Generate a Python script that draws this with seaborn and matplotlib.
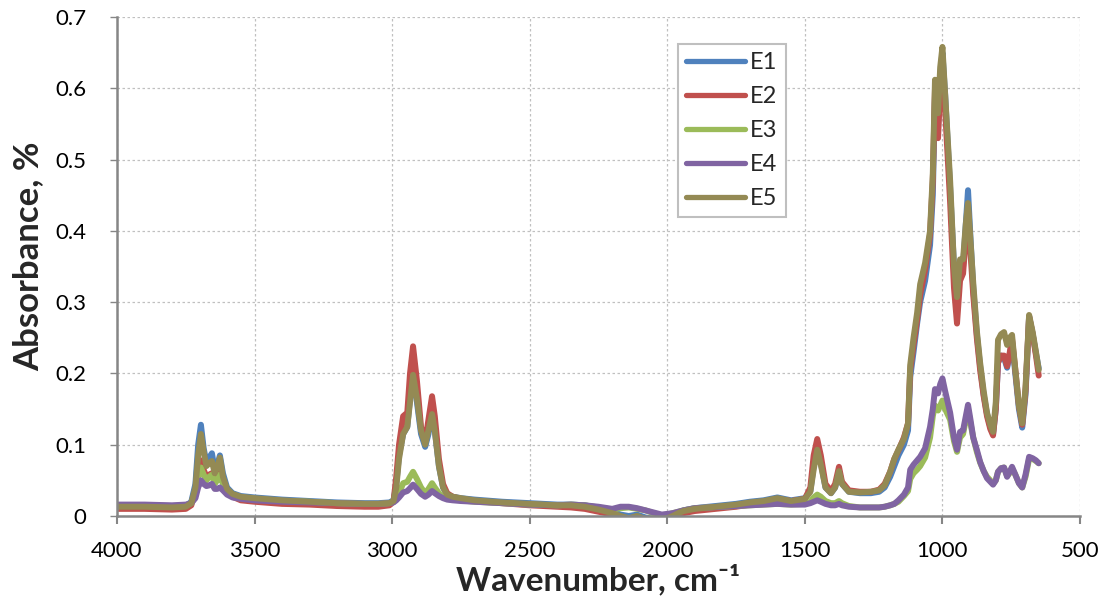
import matplotlib
matplotlib.use("Agg")
import matplotlib.pyplot as plt
import seaborn as sns
import pandas as pd
from matplotlib.lines import Line2D

wavenumber = [4000, 3900, 3800, 3750, 3730, 3715, 3705, 3695, 3685, 3675,
              3665, 3655, 3645, 3636, 3626, 3615, 3600, 3580, 3550, 3500,
              3400, 3300, 3200, 3100, 3050, 3010, 2995, 2985, 2975, 2960,
              2945, 2935, 2924, 2910, 2895, 2880, 2868, 2855, 2845, 2830,
              2815, 2800, 2780, 2750, 2700, 2600, 2500, 2400, 2350, 2300,
              2250, 2200, 2170, 2140, 2110, 2080, 2050, 2020, 2000, 1980,
              1960, 1940, 1900, 1850, 1800, 1750, 1700, 1650, 1600, 1550,
              1500, 1480, 1468, 1455, 1442, 1425, 1405, 1390, 1376, 1365,
              1340, 1300, 1260, 1230, 1210, 1190, 1175, 1160, 1140, 1125,
              1117, 1105, 1092, 1081, 1063, 1045, 1035, 1027, 1021, 1016,
              1008, 1000, 990, 972, 958, 947, 936, 925, 915, 907,
              898, 888, 875, 863, 850, 838, 826, 816, 806, 798,
              787, 776, 765, 756, 747, 735, 722, 710, 698, 685,
              672, 660, 650]

E1 = [.014, .014, .013, .014, .020, .045, .100, .128, .095, .075,
      .082, .088, .065, .070, .085, .060, .040, .032, .028, .026,
      .023, .021, .019, .018, .018, .019, .022, .045, .085, .115,
      .125, .165, .195, .160, .115, .097, .115, .145, .120, .070,
      .040, .030, .027, .025, .023, .020, .018, .016, .016, .015,
      .011, .006, .002, .000, .002, -.002, -.004, -.003, -.002, .001,
      .005, .008, .011, .013, .015, .017, .020, .022, .026, .022,
      .025, .035, .070, .095, .075, .040, .032, .040, .063, .045,
      .034, .032, .032, .034, .040, .055, .070, .085, .100, .120,
      .195, .230, .270, .300, .330, .380, .450, .590, .560, .545,
      .620, .650, .590, .460, .350, .300, .340, .350, .410, .457,
      .390, .320, .255, .210, .170, .143, .125, .115, .150, .215,
      .225, .222, .208, .225, .245, .200, .150, .124, .170, .280,
      .255, .228, .207]

E2 = [.010, .010, .009, .010, .015, .035, .060, .078, .065, .055,
      .058, .060, .050, .058, .072, .050, .034, .027, .022, .020,
      .017, .016, .014, .013, .013, .015, .020, .055, .100, .140,
      .145, .200, .238, .190, .125, .105, .135, .168, .140, .080,
      .045, .032, .027, .024, .021, .018, .015, .013, .012, .010,
      .006, .002, -.002, -.004, -.003, -.006, -.007, -.006, -.005, -.004,
      .000, .004, .007, .009, .011, .013, .016, .019, .024, .021,
      .024, .040, .085, .108, .085, .045, .035, .045, .069, .048,
      .036, .034, .034, .037, .045, .062, .080, .092, .110, .130,
      .205, .240, .275, .310, .345, .395, .470, .600, .560, .530,
      .600, .640, .570, .440, .320, .270, .330, .340, .390, .430,
      .370, .310, .250, .205, .168, .140, .122, .113, .150, .215,
      .225, .225, .210, .228, .248, .205, .155, .128, .175, .280,
      .255, .225, .197]

E3 = [.015, .015, .014, .015, .018, .030, .055, .068, .058, .050,
      .055, .058, .045, .050, .058, .045, .035, .030, .026, .024,
      .021, .020, .018, .017, .017, .018, .020, .025, .032, .046,
      .048, .055, .062, .052, .040, .032, .038, .046, .040, .032,
      .027, .024, .023, .022, .020, .018, .016, .015, .016, .015,
      .012, .009, .011, .012, .010, .008, .004, .001, .002, .004,
      .006, .008, .011, .012, .013, .014, .015, .016, .017, .016,
      .017, .020, .026, .030, .027, .021, .018, .018, .021, .018,
      .014, .012, .012, .012, .013, .015, .017, .020, .028, .035,
      .052, .060, .065, .070, .082, .110, .140, .155, .150, .148,
      .155, .162, .150, .135, .105, .090, .110, .115, .135, .150,
      .130, .110, .090, .075, .063, .055, .050, .045, .050, .062,
      .067, .068, .056, .060, .067, .058, .046, .040, .055, .080,
      .080, .077, .074]

E4 = [.016, .016, .015, .016, .018, .025, .040, .050, .045, .042,
      .043, .045, .038, .038, .040, .036, .030, .026, .024, .022,
      .020, .019, .018, .017, .017, .018, .019, .022, .026, .033,
      .035, .039, .044, .038, .031, .027, .030, .035, .032, .028,
      .025, .023, .022, .021, .020, .018, .016, .015, .016, .015,
      .013, .010, .013, .013, .011, .008, .005, .002, .003, .004,
      .006, .008, .011, .012, .013, .014, .015, .016, .017, .016,
      .016, .018, .020, .022, .020, .017, .015, .015, .017, .015,
      .013, .012, .012, .012, .013, .015, .017, .022, .030, .040,
      .065, .072, .078, .083, .095, .125, .150, .178, .175, .172,
      .185, .193, .175, .145, .110, .093, .118, .120, .140, .156,
      .135, .110, .093, .076, .063, .053, .048, .044, .050, .062,
      .067, .068, .055, .062, .069, .058, .046, .040, .058, .083,
      .081, .078, .074]

E5 = [.013, .013, .012, .013, .018, .040, .085, .115, .090, .070,
      .074, .077, .060, .068, .082, .055, .038, .031, .027, .025,
      .022, .020, .018, .017, .017, .018, .021, .040, .080, .115,
      .125, .160, .198, .165, .120, .100, .120, .143, .120, .070,
      .040, .030, .027, .025, .022, .019, .017, .015, .015, .013,
      .009, .004, .000, -.003, .000, -.004, -.006, -.005, -.003, .000,
      .004, .007, .010, .012, .014, .016, .019, .021, .025, .021,
      .024, .034, .065, .093, .072, .040, .032, .040, .063, .045,
      .034, .033, .034, .036, .043, .062, .080, .093, .108, .130,
      .212, .250, .285, .325, .355, .400, .480, .612, .580, .565,
      .630, .658, .590, .470, .350, .307, .360, .360, .410, .439,
      .385, .327, .260, .215, .175, .145, .128, .118, .160, .247,
      .255, .258, .240, .250, .254, .205, .155, .130, .180, .282,
      .258, .230, .205]

series_names = ["E1", "E2", "E3", "E4", "E5"]
colors = ["#4F81BD", "#C0504D", "#9BBB59", "#8064A2", "#948A54"]
x_ticks = [4000, 3500, 3000, 2500, 2000, 1500, 1000, 500]
y_ticks = [0, 0.1, 0.2, 0.3, 0.4, 0.5, 0.6, 0.7]
y_tick_labels = ["0", "0.1", "0.2", "0.3", "0.4", "0.5", "0.6", "0.7"]

frames = []
for name, vals in zip(series_names, [E1, E2, E3, E4, E5]):
    frames.append(pd.DataFrame({"Wavenumber": wavenumber, "Absorbance": vals, "Sample": name}))
df = pd.concat(frames, ignore_index=True)

sns.set_theme(style="white")
plt.rcParams["font.family"] = ["Lato", "DejaVu Sans"]

fig = plt.figure(figsize=(11.1, 6.02), dpi=100)
ax = fig.add_axes([117 / 1110, 1 - 516 / 602, (1080 - 117) / 1110, (516 - 17) / 602])

sns.lineplot(data=df, x="Wavenumber", y="Absorbance", hue="Sample",
             palette=colors, linewidth=4.3, estimator=None, ax=ax, legend=False,
             solid_capstyle="round", solid_joinstyle="round")

ax.set_xlim(4000, 500)
ax.set_ylim(0, 0.7)
ax.set_xticks(x_ticks)
ax.set_xticklabels([str(t) for t in x_ticks])
ax.set_yticks(y_ticks)
ax.set_yticklabels(y_tick_labels)
ax.grid(True, color="#c0c0c0", linestyle=(0, (2, 2)), linewidth=0.9)
ax.set_axisbelow(True)

for s in ["top", "right"]:
    ax.spines[s].set_visible(False)
for s in ["left", "bottom"]:
    ax.spines[s].set_color("#868686")
    ax.spines[s].set_linewidth(1.8)

ax.tick_params(axis="x", direction="out", length=6, width=1.5, color="#868686",
               labelsize=16, pad=12, labelcolor="black", bottom=True)
ax.tick_params(axis="y", direction="out", length=5, width=1.0, color="#868686",
               labelsize=16, pad=17, labelcolor="black", left=True)

ax.set_xlabel("Wavenumber, cm\u207b\u00b9", fontsize=24, fontweight="bold", labelpad=2)
ax.set_ylabel("Absorbance, %", fontsize=25, fontweight="bold")
ax.yaxis.set_label_coords(-0.076, 0.521)

handles = [Line2D([0], [0], color=c, linewidth=3.8, solid_capstyle="round") for c in colors]
leg = ax.legend(handles, series_names, loc="upper left", bbox_to_anchor=(0.5826, 0.946),
                fontsize=17, frameon=True, fancybox=False, edgecolor="#bfbfbf",
                framealpha=1, handlelength=2.5, handletextpad=0.2, labelspacing=0.55,
                borderpad=0.35, borderaxespad=0)
leg.get_frame().set_linewidth(1.5)

fig.savefig("out.png", dpi=100, facecolor="white")
